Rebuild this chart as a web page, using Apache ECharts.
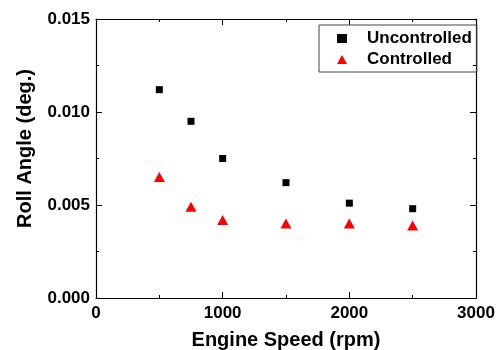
<!DOCTYPE html>
<html>
<head>
<meta charset="utf-8">
<script src="https://cdn.jsdelivr.net/npm/echarts@6/dist/echarts.min.js"></script>
<style>
  html, body { margin: 0; padding: 0; background: #fff; }
  #chart { width: 502px; height: 350px; }
</style>
</head>
<body>
<div id="chart"></div>
<script>
const speeds = [500, 750, 1000, 1500, 2000, 2500];
const uncontrolled = [0.0112, 0.0095, 0.0075, 0.0062, 0.0051, 0.0048];
const controlled = [0.0065, 0.0049, 0.0042, 0.0040, 0.0040, 0.0039];

const font = "Liberation Sans, Arial, sans-serif";
const chart = echarts.init(document.getElementById("chart"));

// shared look for all four frame axes
const frame = () => ({
    axisLine: {show: true, onZero: false, lineStyle: {color: "#000", width: 1.2}},
    axisTick: {show: true, inside: true, length: 6, lineStyle: {color: "#000"}},
    minorTick: {show: true, splitNumber: 2, length: 3, lineStyle: {color: "#000"}},
    splitLine: {show: false}
});

chart.setOption({
    animation: false,
    grid: {left: 96, right: 26, top: 19, bottom: 52, outerBoundsMode: "none"},
    legend: {
        left: 319, top: 25,
        orient: "vertical",
        padding: [5, 5, 4, 18],
        itemGap: 4,
        itemWidth: 10,
        itemHeight: 9,
        borderColor: "#444",
        borderWidth: 1,
        textStyle: {fontFamily: font, fontWeight: "bold", fontSize: 17, lineHeight: 17, color: "#000", padding: [0, 0, 0, 15]},
        data: ["Uncontrolled", "Controlled"]
    },
    xAxis: [
        {
            type: "value", min: 0, max: 3000, interval: 1000,
            name: "Engine Speed (rpm)", nameLocation: "middle", nameGap: 32,
            nameTextStyle: {fontFamily: font, fontWeight: "bold", fontSize: 20, color: "#000"},
            axisLabel: {fontFamily: font, fontWeight: "bold", fontSize: 17, color: "#000", margin: 7,
                formatter: v => String(v)},
            ...frame()
        },
        {
            type: "value", position: "top", min: 0, max: 3000, interval: 1000,
            axisLabel: {show: false},
            ...frame()
        }
    ],
    yAxis: [
        {
            type: "value", min: 0, max: 0.015, interval: 0.005,
            name: "Roll Angle (deg.)", nameLocation: "middle", nameGap: 61,
            nameTextStyle: {fontFamily: font, fontWeight: "bold", fontSize: 20, color: "#000", padding: [0, 0, 0, 20]},
            axisLabel: {fontFamily: font, fontWeight: "bold", fontSize: 17, color: "#000", margin: 6,
                formatter: v => v.toFixed(3)},
            ...frame()
        },
        {
            type: "value", position: "right", min: 0, max: 0.015, interval: 0.005,
            axisLabel: {show: false},
            ...frame()
        }
    ],
    series: [
        {
            type: "scatter", name: "Uncontrolled",
            symbol: "rect", symbolSize: 7,
            itemStyle: {color: "#000", opacity: 1},
            data: speeds.map((s, i) => [s, uncontrolled[i]])
        },
        {
            type: "scatter", name: "Controlled",
            symbol: "triangle", symbolSize: [11, 10],
            itemStyle: {color: "#ff0000", opacity: 1},
            data: speeds.map((s, i) => [s, controlled[i]])
        }
    ]
});
</script>
</body>
</html>
